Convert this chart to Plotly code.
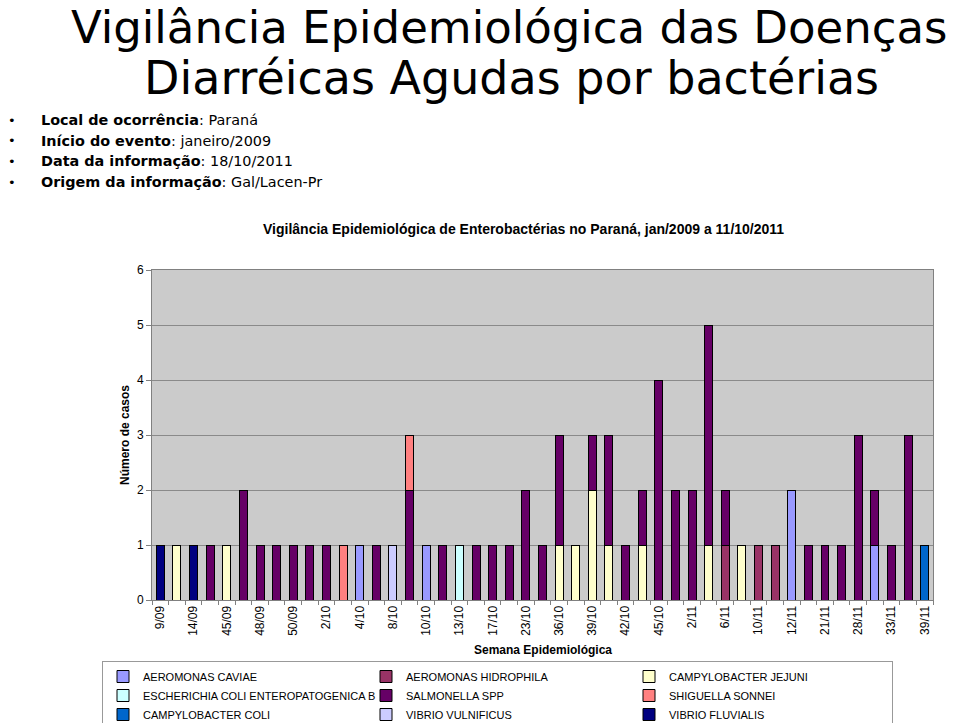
import plotly.graph_objects as go

# ---------------- data ----------------
weeks = ["9/09", "12/09", "14/09", "43/09", "45/09", "47/09", "48/09", "49/09", "50/09", "1/10",
         "2/10", "3/10", "4/10", "6/10", "8/10", "9/10", "10/10", "12/10", "13/10", "15/10",
         "17/10", "20/10", "23/10", "33/10", "36/10", "38/10", "39/10", "40/10", "42/10", "44/10",
         "45/10", "47/10", "2/11", "4/11", "6/11", "8/11", "10/11", "11/11", "12/11", "18/11",
         "21/11", "25/11", "28/11", "31/11", "33/11", "36/11", "39/11"]

aeromonas_caviae = [0,0,0,0,0,0,0,0,0,0, 0,0,1,0,0,0,1,0,0,0, 0,0,0,0,0,0,0,0,0,0, 0,0,0,0,0,0,0,0,2,0, 0,0,0,1,0,0,0]
aeromonas_hidrophila = [0,0,0,0,0,0,0,0,0,0, 0,0,0,0,0,0,0,0,0,0, 0,0,0,0,0,0,0,0,0,0, 0,0,0,0,1,0,1,1,0,0, 0,0,0,0,0,0,0]
campylobacter_jejuni = [0,1,0,0,1,0,0,0,0,0, 0,0,0,0,0,0,0,0,0,0, 0,0,0,0,1,1,2,1,0,1, 0,0,0,1,0,1,0,0,0,0, 0,0,0,0,0,0,0]
ecoli_enteropatogenica = [0,0,0,0,0,0,0,0,0,0, 0,0,0,0,0,0,0,0,1,0, 0,0,0,0,0,0,0,0,0,0, 0,0,0,0,0,0,0,0,0,0, 0,0,0,0,0,0,0]
salmonella_spp = [0,0,0,1,0,2,1,1,1,1, 1,0,0,1,0,2,0,1,0,1, 1,1,2,1,2,0,1,2,1,1, 4,2,2,4,1,0,0,0,0,1, 1,1,3,1,1,3,0]
shiguella_sonnei = [0,0,0,0,0,0,0,0,0,0, 0,1,0,0,0,1,0,0,0,0, 0,0,0,0,0,0,0,0,0,0, 0,0,0,0,0,0,0,0,0,0, 0,0,0,0,0,0,0]
campylobacter_coli = [0,0,0,0,0,0,0,0,0,0, 0,0,0,0,0,0,0,0,0,0, 0,0,0,0,0,0,0,0,0,0, 0,0,0,0,0,0,0,0,0,0, 0,0,0,0,0,0,1]
vibrio_vulnificus = [0,0,0,0,0,0,0,0,0,0, 0,0,0,0,1,0,0,0,0,0, 0,0,0,0,0,0,0,0,0,0, 0,0,0,0,0,0,0,0,0,0, 0,0,0,0,0,0,0]
vibrio_fluvialis = [1,0,1,0,0,0,0,0,0,0, 0,0,0,0,0,0,0,0,0,0, 0,0,0,0,0,0,0,0,0,0, 0,0,0,0,0,0,0,0,0,0, 0,0,0,0,0,0,0]

series_names = ["AEROMONAS CAVIAE", "AEROMONAS HIDROPHILA", "CAMPYLOBACTER JEJUNI",
                "ESCHERICHIA COLI ENTEROPATOGENICA B", "SALMONELLA SPP", "SHIGUELLA SONNEI",
                "CAMPYLOBACTER COLI", "VIBRIO VULNIFICUS", "VIBRIO FLUVIALIS"]
series_values = [aeromonas_caviae, aeromonas_hidrophila, campylobacter_jejuni,
                 ecoli_enteropatogenica, salmonella_spp, shiguella_sonnei,
                 campylobacter_coli, vibrio_vulnificus, vibrio_fluvialis]
series_colors = ["#9999FF", "#993366", "#FFFFCC", "#CCFFFF", "#660066", "#FF8080",
                 "#0066CC", "#CCCCFF", "#000080"]

y_ticks = [0, 1, 2, 3, 4, 5, 6]

# ---------------- layout helpers ----------------
W, H = 960, 723
L, R, T, B = 152, 933, 270, 600


def px(x):
    return (x - L) / (R - L)


def py(y):
    return (B - y) / (B - T)


fig = go.Figure()
for name, vals, col in zip(series_names, series_values, series_colors):
    fig.add_trace(go.Bar(
        x=weeks, y=vals, name=name,
        marker=dict(color=col, line=dict(color="#000000", width=1)),
    ))

tick_text = [w if i % 2 == 0 else "" for i, w in enumerate(weeks)]

fig.update_layout(
    width=W, height=H,
    margin=dict(l=L, r=W - R, t=T, b=H - B, pad=0, autoexpand=False),
    barmode="stack", bargap=0.52,
    paper_bgcolor="white", plot_bgcolor="#CBCBCB",
    font=dict(family="Liberation Sans, Arial", size=12, color="black"),
    showlegend=True,
    legend=dict(
        orientation="h", x=px(102), y=py(661), xanchor="left", yanchor="top",
        traceorder="normal", entrywidth=218, entrywidthmode="pixels",
        bordercolor="#999999", borderwidth=1, bgcolor="white",
        font=dict(family="Liberation Sans, Arial", size=11, color="black"),
        itemclick=False, itemdoubleclick=False,
    ),
    xaxis=dict(
        type="category", tickmode="array", tickvals=weeks, ticktext=tick_text,
        tickangle=-90, tickson="boundaries", ticks="outside", ticklen=4,
        tickcolor="#808080", showline=True, linecolor="#808080", mirror=True,
        showgrid=False, range=[-0.5, len(weeks) - 0.5],
        tickfont=dict(size=12, family="Liberation Sans, Arial"),
    ),
    yaxis=dict(
        range=[0, 6], tickvals=y_ticks, ticks="outside", ticklen=5,
        tickcolor="#808080", showline=True, linecolor="#808080", mirror=True,
        showgrid=True, gridcolor="#8A8A8A", gridwidth=1, zeroline=False,
        tickfont=dict(size=12, family="Liberation Sans, Arial"),
    ),
)

ann = []
P = dict(xref="paper", yref="paper", showarrow=False)
# big title
ann.append(dict(text="Vigilância Epidemiológica das Doenças", x=px(509), y=py(27),
                xanchor="center", yanchor="middle",
                font=dict(family="DejaVu Sans", size=45, color="black"), **P))
ann.append(dict(text="Diarréicas Agudas por bactérias", x=px(511), y=py(78),
                xanchor="center", yanchor="middle",
                font=dict(family="DejaVu Sans", size=46, color="black"), **P))
# bullets
bullets = [("Local de ocorrência", "Paraná"),
           ("Início do evento", "janeiro/2009"),
           ("Data da informação", "18/10/2011"),
           ("Origem da informação", "Gal/Lacen-Pr")]
for i, (k, v) in enumerate(bullets):
    yy = 120 + i * 20.7
    ann.append(dict(text="•", x=px(6), y=py(yy), xanchor="left", yanchor="middle",
                    font=dict(family="DejaVu Sans", size=13, color="black"), **P))
    ann.append(dict(text=f"<b>{k}</b>: {v}", x=px(39), y=py(yy), xanchor="left",
                    yanchor="middle",
                    font=dict(family="DejaVu Sans", size=14.4, color="black"), **P))
# chart title
ann.append(dict(text="<b>Vigilância Epidemiológica de Enterobactérias no Paraná, jan/2009 a 11/10/2011</b>",
                x=px(523), y=py(229), xanchor="center", yanchor="middle",
                font=dict(family="Liberation Sans, Arial", size=14, color="black"), **P))
# axis titles
ann.append(dict(text="<b>Semana Epidemiológica</b>", x=px(543), y=py(650), xanchor="center",
                yanchor="middle",
                font=dict(family="Liberation Sans, Arial", size=12, color="black"), **P))
ann.append(dict(text="<b>Número de casos</b>", x=px(125), y=py(435), xanchor="center",
                yanchor="middle", textangle=-90,
                font=dict(family="Liberation Sans, Arial", size=12, color="black"), **P))
fig.update_layout(annotations=ann)

fig.write_html("out.html", config={"displayModeBar": False},
               post_script="document.body.style.margin='0';")
